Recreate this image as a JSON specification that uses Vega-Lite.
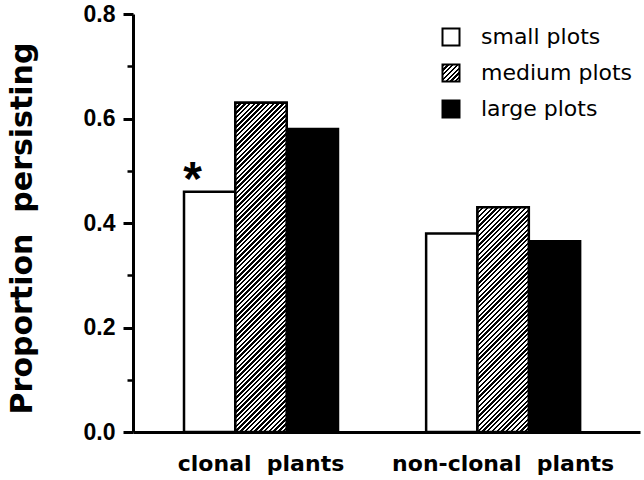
{
"$schema": "https://vega.github.io/schema/vega-lite/v6.json",
"width": 507, "height": 418,
"autosize": "none",
"padding": {"left": 133, "top": 14, "right": 4, "bottom": 48},
"background": "white",
"config": {"view": {"stroke": null}},
"params": [{"name": "hs", "value": [
{"offset":0,"color":"#000"},{"offset":0.00625,"color":"#000"},{"offset":0.00625,"color":"#fff"},{"offset":0.0125,"color":"#fff"},
{"offset":0.0125,"color":"#000"},{"offset":0.01875,"color":"#000"},{"offset":0.01875,"color":"#fff"},{"offset":0.025,"color":"#fff"},
{"offset":0.025,"color":"#000"},{"offset":0.03125,"color":"#000"},{"offset":0.03125,"color":"#fff"},{"offset":0.0375,"color":"#fff"},
{"offset":0.0375,"color":"#000"},{"offset":0.04375,"color":"#000"},{"offset":0.04375,"color":"#fff"},{"offset":0.05,"color":"#fff"},
{"offset":0.05,"color":"#000"},{"offset":0.05625,"color":"#000"},{"offset":0.05625,"color":"#fff"},{"offset":0.0625,"color":"#fff"},
{"offset":0.0625,"color":"#000"},{"offset":0.06875,"color":"#000"},{"offset":0.06875,"color":"#fff"},{"offset":0.075,"color":"#fff"},
{"offset":0.075,"color":"#000"},{"offset":0.08125,"color":"#000"},{"offset":0.08125,"color":"#fff"},{"offset":0.0875,"color":"#fff"},
{"offset":0.0875,"color":"#000"},{"offset":0.09375,"color":"#000"},{"offset":0.09375,"color":"#fff"},{"offset":0.1,"color":"#fff"},
{"offset":0.1,"color":"#000"},{"offset":0.10625,"color":"#000"},{"offset":0.10625,"color":"#fff"},{"offset":0.1125,"color":"#fff"},
{"offset":0.1125,"color":"#000"},{"offset":0.11875,"color":"#000"},{"offset":0.11875,"color":"#fff"},{"offset":0.125,"color":"#fff"},
{"offset":0.125,"color":"#000"},{"offset":0.13125,"color":"#000"},{"offset":0.13125,"color":"#fff"},{"offset":0.1375,"color":"#fff"},
{"offset":0.1375,"color":"#000"},{"offset":0.14375,"color":"#000"},{"offset":0.14375,"color":"#fff"},{"offset":0.15,"color":"#fff"},
{"offset":0.15,"color":"#000"},{"offset":0.15625,"color":"#000"},{"offset":0.15625,"color":"#fff"},{"offset":0.1625,"color":"#fff"},
{"offset":0.1625,"color":"#000"},{"offset":0.16875,"color":"#000"},{"offset":0.16875,"color":"#fff"},{"offset":0.175,"color":"#fff"},
{"offset":0.175,"color":"#000"},{"offset":0.18125,"color":"#000"},{"offset":0.18125,"color":"#fff"},{"offset":0.1875,"color":"#fff"},
{"offset":0.1875,"color":"#000"},{"offset":0.19375,"color":"#000"},{"offset":0.19375,"color":"#fff"},{"offset":0.2,"color":"#fff"},
{"offset":0.2,"color":"#000"},{"offset":0.20625,"color":"#000"},{"offset":0.20625,"color":"#fff"},{"offset":0.2125,"color":"#fff"},
{"offset":0.2125,"color":"#000"},{"offset":0.21875,"color":"#000"},{"offset":0.21875,"color":"#fff"},{"offset":0.225,"color":"#fff"},
{"offset":0.225,"color":"#000"},{"offset":0.23125,"color":"#000"},{"offset":0.23125,"color":"#fff"},{"offset":0.2375,"color":"#fff"},
{"offset":0.2375,"color":"#000"},{"offset":0.24375,"color":"#000"},{"offset":0.24375,"color":"#fff"},{"offset":0.25,"color":"#fff"},
{"offset":0.25,"color":"#000"},{"offset":0.25625,"color":"#000"},{"offset":0.25625,"color":"#fff"},{"offset":0.2625,"color":"#fff"},
{"offset":0.2625,"color":"#000"},{"offset":0.26875,"color":"#000"},{"offset":0.26875,"color":"#fff"},{"offset":0.275,"color":"#fff"},
{"offset":0.275,"color":"#000"},{"offset":0.28125,"color":"#000"},{"offset":0.28125,"color":"#fff"},{"offset":0.2875,"color":"#fff"},
{"offset":0.2875,"color":"#000"},{"offset":0.29375,"color":"#000"},{"offset":0.29375,"color":"#fff"},{"offset":0.3,"color":"#fff"},
{"offset":0.3,"color":"#000"},{"offset":0.30625,"color":"#000"},{"offset":0.30625,"color":"#fff"},{"offset":0.3125,"color":"#fff"},
{"offset":0.3125,"color":"#000"},{"offset":0.31875,"color":"#000"},{"offset":0.31875,"color":"#fff"},{"offset":0.325,"color":"#fff"},
{"offset":0.325,"color":"#000"},{"offset":0.33125,"color":"#000"},{"offset":0.33125,"color":"#fff"},{"offset":0.3375,"color":"#fff"},
{"offset":0.3375,"color":"#000"},{"offset":0.34375,"color":"#000"},{"offset":0.34375,"color":"#fff"},{"offset":0.35,"color":"#fff"},
{"offset":0.35,"color":"#000"},{"offset":0.35625,"color":"#000"},{"offset":0.35625,"color":"#fff"},{"offset":0.3625,"color":"#fff"},
{"offset":0.3625,"color":"#000"},{"offset":0.36875,"color":"#000"},{"offset":0.36875,"color":"#fff"},{"offset":0.375,"color":"#fff"},
{"offset":0.375,"color":"#000"},{"offset":0.38125,"color":"#000"},{"offset":0.38125,"color":"#fff"},{"offset":0.3875,"color":"#fff"},
{"offset":0.3875,"color":"#000"},{"offset":0.39375,"color":"#000"},{"offset":0.39375,"color":"#fff"},{"offset":0.4,"color":"#fff"},
{"offset":0.4,"color":"#000"},{"offset":0.40625,"color":"#000"},{"offset":0.40625,"color":"#fff"},{"offset":0.4125,"color":"#fff"},
{"offset":0.4125,"color":"#000"},{"offset":0.41875,"color":"#000"},{"offset":0.41875,"color":"#fff"},{"offset":0.425,"color":"#fff"},
{"offset":0.425,"color":"#000"},{"offset":0.43125,"color":"#000"},{"offset":0.43125,"color":"#fff"},{"offset":0.4375,"color":"#fff"},
{"offset":0.4375,"color":"#000"},{"offset":0.44375,"color":"#000"},{"offset":0.44375,"color":"#fff"},{"offset":0.45,"color":"#fff"},
{"offset":0.45,"color":"#000"},{"offset":0.45625,"color":"#000"},{"offset":0.45625,"color":"#fff"},{"offset":0.4625,"color":"#fff"},
{"offset":0.4625,"color":"#000"},{"offset":0.46875,"color":"#000"},{"offset":0.46875,"color":"#fff"},{"offset":0.475,"color":"#fff"},
{"offset":0.475,"color":"#000"},{"offset":0.48125,"color":"#000"},{"offset":0.48125,"color":"#fff"},{"offset":0.4875,"color":"#fff"},
{"offset":0.4875,"color":"#000"},{"offset":0.49375,"color":"#000"},{"offset":0.49375,"color":"#fff"},{"offset":0.5,"color":"#fff"},
{"offset":0.5,"color":"#000"},{"offset":0.50625,"color":"#000"},{"offset":0.50625,"color":"#fff"},{"offset":0.5125,"color":"#fff"},
{"offset":0.5125,"color":"#000"},{"offset":0.51875,"color":"#000"},{"offset":0.51875,"color":"#fff"},{"offset":0.525,"color":"#fff"},
{"offset":0.525,"color":"#000"},{"offset":0.53125,"color":"#000"},{"offset":0.53125,"color":"#fff"},{"offset":0.5375,"color":"#fff"},
{"offset":0.5375,"color":"#000"},{"offset":0.54375,"color":"#000"},{"offset":0.54375,"color":"#fff"},{"offset":0.55,"color":"#fff"},
{"offset":0.55,"color":"#000"},{"offset":0.55625,"color":"#000"},{"offset":0.55625,"color":"#fff"},{"offset":0.5625,"color":"#fff"},
{"offset":0.5625,"color":"#000"},{"offset":0.56875,"color":"#000"},{"offset":0.56875,"color":"#fff"},{"offset":0.575,"color":"#fff"},
{"offset":0.575,"color":"#000"},{"offset":0.58125,"color":"#000"},{"offset":0.58125,"color":"#fff"},{"offset":0.5875,"color":"#fff"},
{"offset":0.5875,"color":"#000"},{"offset":0.59375,"color":"#000"},{"offset":0.59375,"color":"#fff"},{"offset":0.6,"color":"#fff"},
{"offset":0.6,"color":"#000"},{"offset":0.60625,"color":"#000"},{"offset":0.60625,"color":"#fff"},{"offset":0.6125,"color":"#fff"},
{"offset":0.6125,"color":"#000"},{"offset":0.61875,"color":"#000"},{"offset":0.61875,"color":"#fff"},{"offset":0.625,"color":"#fff"},
{"offset":0.625,"color":"#000"},{"offset":0.63125,"color":"#000"},{"offset":0.63125,"color":"#fff"},{"offset":0.6375,"color":"#fff"},
{"offset":0.6375,"color":"#000"},{"offset":0.64375,"color":"#000"},{"offset":0.64375,"color":"#fff"},{"offset":0.65,"color":"#fff"},
{"offset":0.65,"color":"#000"},{"offset":0.65625,"color":"#000"},{"offset":0.65625,"color":"#fff"},{"offset":0.6625,"color":"#fff"},
{"offset":0.6625,"color":"#000"},{"offset":0.66875,"color":"#000"},{"offset":0.66875,"color":"#fff"},{"offset":0.675,"color":"#fff"},
{"offset":0.675,"color":"#000"},{"offset":0.68125,"color":"#000"},{"offset":0.68125,"color":"#fff"},{"offset":0.6875,"color":"#fff"},
{"offset":0.6875,"color":"#000"},{"offset":0.69375,"color":"#000"},{"offset":0.69375,"color":"#fff"},{"offset":0.7,"color":"#fff"},
{"offset":0.7,"color":"#000"},{"offset":0.70625,"color":"#000"},{"offset":0.70625,"color":"#fff"},{"offset":0.7125,"color":"#fff"},
{"offset":0.7125,"color":"#000"},{"offset":0.71875,"color":"#000"},{"offset":0.71875,"color":"#fff"},{"offset":0.725,"color":"#fff"},
{"offset":0.725,"color":"#000"},{"offset":0.73125,"color":"#000"},{"offset":0.73125,"color":"#fff"},{"offset":0.7375,"color":"#fff"},
{"offset":0.7375,"color":"#000"},{"offset":0.74375,"color":"#000"},{"offset":0.74375,"color":"#fff"},{"offset":0.75,"color":"#fff"},
{"offset":0.75,"color":"#000"},{"offset":0.75625,"color":"#000"},{"offset":0.75625,"color":"#fff"},{"offset":0.7625,"color":"#fff"},
{"offset":0.7625,"color":"#000"},{"offset":0.76875,"color":"#000"},{"offset":0.76875,"color":"#fff"},{"offset":0.775,"color":"#fff"},
{"offset":0.775,"color":"#000"},{"offset":0.78125,"color":"#000"},{"offset":0.78125,"color":"#fff"},{"offset":0.7875,"color":"#fff"},
{"offset":0.7875,"color":"#000"},{"offset":0.79375,"color":"#000"},{"offset":0.79375,"color":"#fff"},{"offset":0.8,"color":"#fff"},
{"offset":0.8,"color":"#000"},{"offset":0.80625,"color":"#000"},{"offset":0.80625,"color":"#fff"},{"offset":0.8125,"color":"#fff"},
{"offset":0.8125,"color":"#000"},{"offset":0.81875,"color":"#000"},{"offset":0.81875,"color":"#fff"},{"offset":0.825,"color":"#fff"},
{"offset":0.825,"color":"#000"},{"offset":0.83125,"color":"#000"},{"offset":0.83125,"color":"#fff"},{"offset":0.8375,"color":"#fff"},
{"offset":0.8375,"color":"#000"},{"offset":0.84375,"color":"#000"},{"offset":0.84375,"color":"#fff"},{"offset":0.85,"color":"#fff"},
{"offset":0.85,"color":"#000"},{"offset":0.85625,"color":"#000"},{"offset":0.85625,"color":"#fff"},{"offset":0.8625,"color":"#fff"},
{"offset":0.8625,"color":"#000"},{"offset":0.86875,"color":"#000"},{"offset":0.86875,"color":"#fff"},{"offset":0.875,"color":"#fff"},
{"offset":0.875,"color":"#000"},{"offset":0.88125,"color":"#000"},{"offset":0.88125,"color":"#fff"},{"offset":0.8875,"color":"#fff"},
{"offset":0.8875,"color":"#000"},{"offset":0.89375,"color":"#000"},{"offset":0.89375,"color":"#fff"},{"offset":0.9,"color":"#fff"},
{"offset":0.9,"color":"#000"},{"offset":0.90625,"color":"#000"},{"offset":0.90625,"color":"#fff"},{"offset":0.9125,"color":"#fff"},
{"offset":0.9125,"color":"#000"},{"offset":0.91875,"color":"#000"},{"offset":0.91875,"color":"#fff"},{"offset":0.925,"color":"#fff"},
{"offset":0.925,"color":"#000"},{"offset":0.93125,"color":"#000"},{"offset":0.93125,"color":"#fff"},{"offset":0.9375,"color":"#fff"},
{"offset":0.9375,"color":"#000"},{"offset":0.94375,"color":"#000"},{"offset":0.94375,"color":"#fff"},{"offset":0.95,"color":"#fff"},
{"offset":0.95,"color":"#000"},{"offset":0.95625,"color":"#000"},{"offset":0.95625,"color":"#fff"},{"offset":0.9625,"color":"#fff"},
{"offset":0.9625,"color":"#000"},{"offset":0.96875,"color":"#000"},{"offset":0.96875,"color":"#fff"},{"offset":0.975,"color":"#fff"},
{"offset":0.975,"color":"#000"},{"offset":0.98125,"color":"#000"},{"offset":0.98125,"color":"#fff"},{"offset":0.9875,"color":"#fff"},
{"offset":0.9875,"color":"#000"},{"offset":0.99375,"color":"#000"},{"offset":0.99375,"color":"#fff"},{"offset":1,"color":"#fff"}
]}],
"data": {"values": [
{"group": "clonal\u00a0\u00a0plants", "size": "small plots", "value": 0.46, "note": "*"},
{"group": "clonal\u00a0\u00a0plants", "size": "medium plots", "value": 0.63},
{"group": "clonal\u00a0\u00a0plants", "size": "large plots", "value": 0.58},
{"group": "non-clonal\u00a0\u00a0plants", "size": "small plots", "value": 0.38},
{"group": "non-clonal\u00a0\u00a0plants", "size": "medium plots", "value": 0.43},
{"group": "non-clonal\u00a0\u00a0plants", "size": "large plots", "value": 0.365}
]},
"encoding": {
  "x": {"field": "group", "type": "nominal", "sort": ["clonal\u00a0\u00a0plants", "non-clonal\u00a0\u00a0plants"],
        "scale": {"paddingInner": 0.364, "paddingOuter": 0.229, "align": 0.46},
        "axis": {"title": null, "labelAngle": 0, "ticks": false, "tickSize": 0, "domainColor": "black", "domainWidth": 3,
                 "labelFont": "DejaVu Sans", "labelFontSize": 22, "labelFontWeight": "bold", "labelColor": "black",
                 "labelBaseline": "alphabetic", "labelPadding": 38, "labelLimit": 400}},
  "xOffset": {"field": "size", "type": "nominal", "sort": ["small plots", "medium plots", "large plots"],
              "scale": {"paddingInner": 0, "paddingOuter": 0}}
},
"layer": [
  {
    "mark": {"type": "bar", "stroke": "black", "strokeWidth": 2.5},
    "encoding": {
      "y": {"field": "value", "type": "quantitative", "scale": {"domain": [0, 0.8], "nice": false},
            "axis": {"title": "Proportion\u00a0\u00a0persisting", "values": [0, 0.2, 0.4, 0.6, 0.8], "format": ".1f", "grid": false,
                     "domainColor": "black", "domainWidth": 3, "tickColor": "black", "tickWidth": 3, "tickSize": 10,
                     "labelFont": "Liberation Sans", "labelFontSize": 23, "labelFontWeight": "bold", "labelColor": "black",
                     "labelPadding": 8, "labelFlush": false,
                     "titleFont": "DejaVu Sans", "titleFontSize": 30, "titleFontWeight": "bold", "titleColor": "black",
                     "titleAngle": -90, "titleX": -111, "titleY": 214, "titleAlign": "center", "titleBaseline": "middle"}},
      "fill": {"field": "size", "type": "nominal",
               "scale": {"domain": ["small plots", "medium plots", "large plots"],
                         "range": ["white", {"expr": "{gradient:'linear',x1:0,y1:0,x2:11.18,y2:11.18,stops:hs}"}, "black"]},
               "legend": {"title": null, "orient": "none", "legendX": 307, "legendY": 12, "padding": 0,
                          "symbolType": "square", "symbolSize": 289, "symbolStrokeColor": "black", "symbolStrokeWidth": 2,
                          "labelFont": "DejaVu Sans", "labelFontSize": 22, "labelColor": "black", "labelOffset": 19,
                          "rowPadding": 10, "labelLimit": 300}}
    }
  },
  {
    "transform": [{"filter": "datum.size === 'medium plots' && datum.group === 'clonal\u00a0\u00a0plants'"}],
    "mark": {"type": "bar", "stroke": "black", "strokeWidth": 2.5,
             "fill": {"expr": "{gradient:'linear',x1:0,y1:0,x2:0.17571,y2:1.12692,stops:hs}"}},
    "encoding": {"y": {"field": "value", "type": "quantitative", "scale": {"domain": [0, 0.8], "nice": false}, "axis": null}}
  },
  {
    "transform": [{"filter": "datum.size === 'medium plots' && datum.group === 'non-clonal\u00a0\u00a0plants'"}],
    "mark": {"type": "bar", "stroke": "black", "strokeWidth": 2.5,
             "fill": {"expr": "{gradient:'linear',x1:0,y1:0,x2:0.36716,y2:1.60728,stops:hs}"}},
    "encoding": {"y": {"field": "value", "type": "quantitative", "scale": {"domain": [0, 0.8], "nice": false}, "axis": null}}
  },
  {
    "transform": [{"filter": "datum.note"}],
    "mark": {"type": "text", "font": "Liberation Sans", "fontSize": 48, "fontWeight": "bold", "dx": -17, "dy": 3,
             "baseline": "alphabetic", "align": "center", "color": "black"},
    "encoding": {
      "text": {"field": "note"},
      "y": {"field": "value", "type": "quantitative", "scale": {"domain": [0, 0.8], "nice": false},
            "axis": {"orient": "left", "values": [0.1, 0.3, 0.5, 0.7], "labels": false, "domain": false, "grid": false,
                     "title": null, "ticks": true, "tickSize": 6, "tickWidth": 2.5, "tickColor": "black"}}
    }
  }
],
"resolve": {"axis": {"y": "independent"}}
}
